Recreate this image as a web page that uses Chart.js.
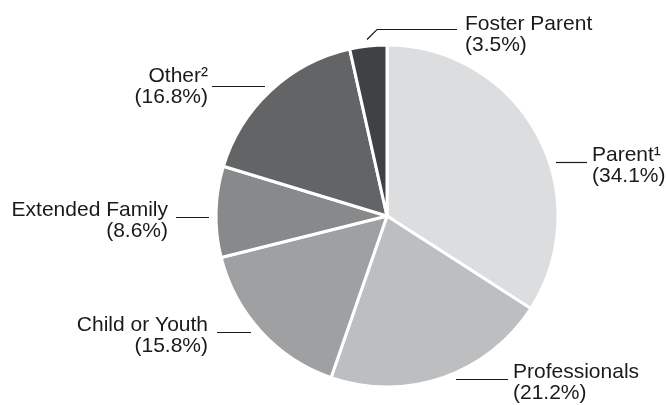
<!DOCTYPE html>
<html>
<head>
<meta charset="utf-8">
<script src="https://cdn.jsdelivr.net/npm/chart.js@4"></script>
<style>
    html, body { margin: 0; padding: 0; background: #fff; }
    #wrap { width: 666px; height: 405px; position: relative; }
</style>
</head>
<body>
<div id="wrap"><canvas id="myChart"></canvas></div>
<script>
// slice data, clockwise from 12 o'clock
var labels = ["Parent\u00b9", "Professionals", "Child or Youth", "Extended Family", "Other\u00b2", "Foster Parent"];
var values = [34.1, 21.2, 15.8, 8.6, 16.8, 3.5];
var colors = ["#dcdddf", "#bdbec0", "#9fa0a2", "#88898b", "#636466", "#404143"];

// where each label sits, as offsets from the pie centre (px)
var labelLayout = [
    { x: 205, y: -55, align: "left", line: [[169, -54], [200, -54]] },
    { x: 126, y: 162, align: "left", line: [[69, 163], [121, 163]] },
    { x: -179, y: 115, align: "right", line: [[-170, 116], [-136, 116]] },
    { x: -219, y: 0, align: "right", line: [[-211, 1], [-178, 1]] },
    { x: -179, y: -134, align: "right", line: [[-175, -130], [-122, -130]] },
    { x: 78, y: -186, align: "left", line: [[-20, -177], [-10, -187], [70, -187]] }
];

var calloutPlugin = {
    id: "callouts",
    afterDraw: function(chart) {
        var ctx = chart.ctx;
        var arcs = chart.getDatasetMeta(0).data;
        var cx = arcs[0].x;
        var cy = arcs[0].y;
        ctx.save();
        ctx.font = "21px 'Liberation Sans', Arial, sans-serif";
        ctx.fillStyle = "#1a1a1a";
        ctx.strokeStyle = "#1a1a1a";
        ctx.lineWidth = 1.2;
        ctx.textBaseline = "alphabetic";
        labelLayout.forEach(function(l, i) {
            ctx.beginPath();
            l.line.forEach(function(p, j) {
                if (j == 0) ctx.moveTo(cx + p[0], cy + p[1] + 0.5);
                else ctx.lineTo(cx + p[0], cy + p[1] + 0.5);
            });
            ctx.stroke();
            ctx.textAlign = l.align;
            ctx.fillText(labels[i], cx + l.x, cy + l.y);
            ctx.fillText("(" + values[i].toFixed(1) + "%)", cx + l.x, cy + l.y + 21);
        });
        ctx.restore();
    }
};

function displayGraph(xlabels, yvalues) {
    var grapharea = document.getElementById('myChart');
    const data = {
        labels: xlabels,
        datasets: [{
            data: yvalues,
            backgroundColor: colors,
            borderColor: "#ffffff",
            borderWidth: 3
        }]
    };
    const config = {
        type: 'pie',
        data: data,
        options: {
            responsive: true,
            maintainAspectRatio: false,
            animation: false,
            radius: 171,
            layout: { padding: { left: 200, right: 92, top: 40, bottom: 13 } },
            plugins: {
                legend: { display: false },
                tooltip: { enabled: false }
            }
        },
        plugins: [calloutPlugin]
    };
    const myChart = new Chart(grapharea, config);
}
displayGraph(labels, values);
</script>
</body>
</html>
